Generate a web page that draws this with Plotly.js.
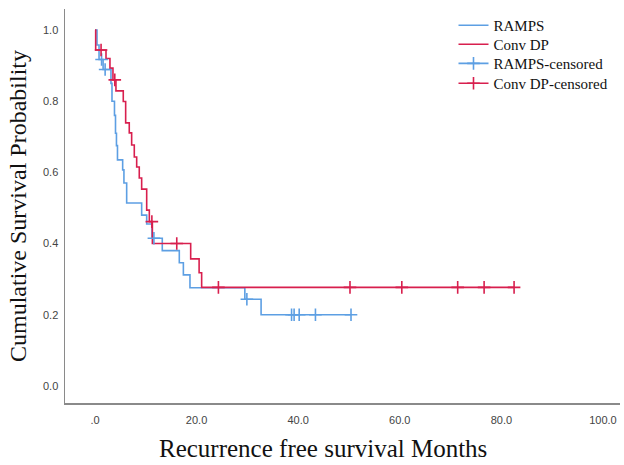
<!DOCTYPE html>
<html>
<head>
<meta charset="utf-8">
<script src="https://cdn.plot.ly/plotly-3.0.1.min.js"></script>
<style>html,body{margin:0;padding:0;background:#fff;}#chart{width:624px;height:465px;}</style>
</head>
<body>
<div id="chart"></div>
<script>
// RAMPS Kaplan-Meier steps (months, survival)
const rampsTime = [0, 0.4, 0.8, 1.6, 3.15, 3.35, 3.84, 4.04, 4.23, 4.43, 5.45, 5.7, 6.24, 9.19, 10.18, 11.22, 13.25, 16.6, 17.4, 18.7, 29.5, 32.7, 50.4];
const rampsSurv = [1.0, 0.958, 0.917, 0.889, 0.85, 0.80, 0.76, 0.71, 0.675, 0.635, 0.607, 0.57, 0.514, 0.48, 0.455, 0.415, 0.38, 0.346, 0.312, 0.276, 0.2435, 0.2, 0.2];
// Conv DP Kaplan-Meier steps
const convTime = [0, 0.14, 2.17, 2.95, 3.54, 4.13, 5.57, 6.04, 6.75, 7.22, 7.74, 8.21, 8.72, 9.19, 10.18, 10.7, 11.3, 18.84, 20.5, 21.0, 82.5];
const convSurv = [1.0, 0.944, 0.920, 0.893, 0.86, 0.829, 0.799, 0.739, 0.711, 0.677, 0.643, 0.615, 0.584, 0.553, 0.494, 0.4615, 0.40, 0.357, 0.318, 0.277, 0.277];
// Censored observations
const rampsCensT = [1.3, 2.0, 11.6, 29.9, 38.7, 39.2, 40.2, 43.4, 50.4];
const rampsCensS = [0.917, 0.889, 0.415, 0.2435, 0.2, 0.2, 0.2, 0.2, 0.2];
const convCensT = [1.2, 3.9, 11.2, 16.1, 24.3, 50.2, 60.4, 71.4, 76.6, 82.5];
const convCensS = [0.944, 0.86, 0.4615, 0.40, 0.277, 0.277, 0.277, 0.277, 0.277, 0.277];
// Axis ticks
const xTickVals = [0, 20, 40, 60, 80, 100];
const xTickText = ['.0', '20.0', '40.0', '60.0', '80.0', '100.0'];
const yTickVals = [0, 0.2, 0.4, 0.6, 0.8, 1.0];
const yTickText = ['0.0', '0.2', '0.4', '0.6', '0.8', '1.0'];

const BLUE = '#5d9fe3';
const RED = '#d81f4e';

function sep(arr) { const out = []; arr.forEach((v, i) => { if (i) out.push(null); out.push(v); }); return out; }

const traces = [
  {x: rampsTime, y: rampsSurv, name: 'RAMPS', mode: 'lines', legend: 'legend', line: {shape: 'hv', color: BLUE, width: 1.6}},
  {x: convTime, y: convSurv, name: 'Conv DP', mode: 'lines', legend: 'legend2', line: {shape: 'hv', color: RED, width: 1.6}},
  {x: sep(rampsCensT), y: sep(rampsCensS), name: 'RAMPS-censored', mode: 'lines+markers', connectgaps: false, legend: 'legend3',
   line: {color: BLUE, width: 1.6}, marker: {symbol: 'cross-thin', size: 9, color: BLUE, line: {color: BLUE, width: 1.6}}},
  {x: sep(convCensT), y: sep(convCensS), name: 'Conv DP-censored', mode: 'lines+markers', connectgaps: false, legend: 'legend4',
   line: {color: RED, width: 1.6}, marker: {symbol: 'cross-thin', size: 9, color: RED, line: {color: RED, width: 1.6}}}
];

const legFont = {family: 'Liberation Serif, Times New Roman, serif', size: 15, color: '#111'};
function leg(y) { return {x: 0.70, y: y, xanchor: 'left', yanchor: 'top', bgcolor: 'rgba(0,0,0,0)', font: legFont}; }

const layout = {
  width: 624, height: 465,
  margin: {l: 65, r: 4, t: 9, b: 62},
  paper_bgcolor: '#fff', plot_bgcolor: '#fff',
  showlegend: true,
  legend: leg(1.0), legend2: leg(0.9518), legend3: leg(0.9032), legend4: leg(0.8528),
  xaxis: {range: [-5.9, 103.35], showgrid: false, zeroline: false, showline: true, linecolor: '#8a8a8a', linewidth: 1.5,
          tickmode: 'array', tickvals: xTickVals, ticktext: xTickText, ticks: '', ticklen: 0, ticklabelstandoff: 6,
          tickfont: {family: 'Liberation Sans, Arial, sans-serif', size: 11, color: '#444'}},
  yaxis: {range: [-0.048, 1.059], showgrid: false, zeroline: false, showline: true, linecolor: '#8a8a8a', linewidth: 1.5,
          tickmode: 'array', tickvals: yTickVals, ticktext: yTickText, ticks: '', ticklen: 0, ticklabelstandoff: 3,
          tickfont: {family: 'Liberation Sans, Arial, sans-serif', size: 11, color: '#444'},
          title: {text: 'Cumulative Survival Probability', standoff: 9,
                  font: {family: 'Liberation Serif, Times New Roman, serif', size: 24, color: '#111'}}},
  annotations: [{text: 'Recurrence free survival Months', xref: 'paper', yref: 'paper', x: 0.465, y: 0, yshift: -45,
                 xanchor: 'center', yanchor: 'middle', showarrow: false, borderpad: 0,
                 font: {family: 'Liberation Serif, Times New Roman, serif', size: 25, color: '#111'}}]
};

Plotly.newPlot('chart', traces, layout, {displayModeBar: false, staticPlot: true});
</script>
</body>
</html>
